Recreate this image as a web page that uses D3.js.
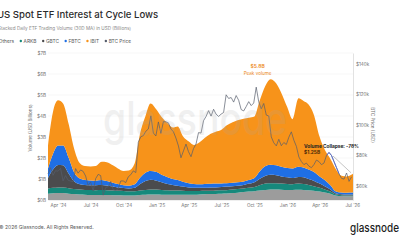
<!DOCTYPE html>
<html>
<head>
<meta charset="utf-8">
<script src="https://d3js.org/d3.v7.min.js"></script>
<style>
  body { margin: 0; background: #fff; }
  text { font-family: Inter, "Liberation Sans", sans-serif; }
</style>
</head>
<body>
<div id="chart"></div>
<script>
// half-monthly points of the 30D MA volume (USD billions)
var volDates = ["2024-03-04","2024-03-18","2024-04-01","2024-04-15","2024-05-01","2024-05-15","2024-06-01","2024-06-15",
  "2024-07-01","2024-07-15","2024-08-01","2024-08-15","2024-09-01","2024-09-15","2024-10-01","2024-10-15",
  "2024-11-01","2024-11-15","2024-12-01","2024-12-15","2025-01-01","2025-01-15","2025-02-01","2025-02-15",
  "2025-03-01","2025-03-15","2025-04-01","2025-04-15","2025-05-01","2025-05-15","2025-06-01","2025-06-15",
  "2025-07-01","2025-07-15","2025-08-01","2025-08-15","2025-09-01","2025-09-15","2025-10-01","2025-10-15",
  "2025-11-01","2025-11-15","2025-12-01","2025-12-15","2026-01-01","2026-01-15","2026-02-01","2026-02-15",
  "2026-03-01","2026-03-15","2026-04-01","2026-04-15","2026-05-01","2026-05-15","2026-06-01","2026-06-15",
  "2026-07-01","2026-07-03"];
var others = [.30,.32,.33,.33,.30,.28,.26,.25,.24,.24,.24,.24,.23,.23,.22,.22,
  .22,.24,.25,.26,.26,.25,.25,.25,.25,.25,.25,.25,.26,.27,.28,.29,
  .30,.31,.33,.35,.38,.40,.42,.45,.48,.50,.50,.49,.48,.48,.49,.48,
  .46,.44,.40,.36,.30,.22,.19,.18,.18,.18];
var arkb = [.25,.26,.27,.27,.26,.24,.24,.23,.24,.23,.24,.23,.22,.21,.21,.20,
  .20,.21,.23,.24,.24,.23,.21,.20,.20,.19,.18,.18,.17,.17,.16,.16,
  .16,.16,.17,.17,.17,.18,.20,.25,.30,.30,.30,.29,.28,.27,.29,.28,
  .26,.22,.18,.14,.10,.05,.04,.04,.04,.04];
var gbtc = [.50,.87,1.07,1.05,.69,.38,.25,.24,.22,.23,.23,.22,.19,.16,.14,.13,
  .16,.30,.42,.46,.42,.37,.30,.27,.23,.20,.17,.15,.15,.14,.15,.15,
  .16,.17,.16,.16,.17,.20,.23,.30,.37,.40,.38,.34,.32,.30,.32,.32,
  .28,.26,.20,.16,.10,.05,.04,.04,.04,.04];
var fbtc = [.45,.75,.93,.95,.75,.45,.27,.23,.23,.22,.24,.21,.18,.16,.13,.13,
  .17,.30,.40,.42,.41,.35,.32,.28,.27,.23,.20,.18,.17,.18,.18,.18,
  .17,.16,.16,.17,.16,.17,.20,.35,.47,.48,.47,.46,.44,.45,.48,.47,
  .45,.43,.34,.29,.20,.10,.09,.09,.10,.10];
var ibit = [1.10,2.00,2.15,2.00,1.60,1.15,.73,.67,.67,.70,.87,.90,.83,.74,.68,.72,
  1.00,2.05,2.70,3.22,2.97,2.75,2.57,2.45,2.55,2.18,1.98,1.86,2.00,2.19,2.38,2.47,
  2.56,2.75,2.88,2.95,2.99,2.97,2.93,3.35,3.83,4.07,3.90,3.52,2.88,2.35,3.27,3.17,
  3.10,2.75,1.88,1.45,1.25,1.08,.79,.77,.87,.89];

// weekly BTC price (USD thousands), Mondays from 2024-03-04
var priceStart = "2024-03-04";
var btcPrice = [68,72,67,70, 69.7,71.6,63.4,66.8,63.8, 63.2,62.9,71.4,68.4, 70.5,69.6,66.5,60.3,
  62.7,56.7,64.8,67.6,66.8, 54,59,59.5,62.9, 57.5,57,58.2,63.3,63.3, 62.2,66,67.4,69.9,
  68.8,88.7,92.3,93, 95.9,97.4,106,94.7,92.8,
  102,94.5,102.2,102.1, 101.4,97.4,95.5,91.4, 86.2,78.5,83,87.5,82.5, 79.2,84.5,87.5,95,
  94.7,102.8,105.6,109.4, 105.8,110.3,107.1,105.6,107.1, 108.2,119.8,117.4,118,
  115,119.3,116.2,110.1, 109.2,112.1,115.3,112.7,114.4, 124.8,115.2,110.6,114.1,
  106.5,105.9,92.2,88.3, 86.3,90.6,86.4,88.5,87.2,
  92,95.5,90,86, 79,76,74,75, 73,72,74,77,76, 74,75,80,82, 80,76,72,68, 65,64.5,68.5,63,66];

var seriesNames = ["Others", "ARKB", "GBTC", "FBTC", "IBIT"];
var seriesColors = ["#9c9c9c", "#16897c", "#4b4b4d", "#1f6fe5", "#f7931a"];
var priceColor = "#565d6b";
var yTicks = [0, 1, 2, 3, 4, 5, 6, 7];
var priceTicks = [60, 80, 100, 120, 140];

var W = 400, H = 240;
var parse = d3.timeParse("%Y-%m-%d");

var rows = volDates.map(function(d, i) {
  return { date: parse(d), Others: others[i], ARKB: arkb[i], GBTC: gbtc[i], FBTC: fbtc[i], IBIT: ibit[i] };
});
var priceDates = d3.timeMonday.range(parse(priceStart), d3.timeDay.offset(parse(priceStart), 7 * btcPrice.length));
var prices = btcPrice.map(function(p, i) { return { date: priceDates[i], p: p }; });

var svg = d3.select("#chart").append("svg")
  .attr("width", W).attr("height", H);

var x = d3.scaleTime().domain([parse("2024-03-04"), parse("2026-07-03")]).range([48, 353]);
var y = d3.scaleLinear().domain([0, 7]).range([200, 53]);
var yR = d3.scaleLinear().domain([50.8, 147.2]).range([200, 53]);

// grid
svg.append("g").selectAll("line").data(yTicks).enter().append("line")
  .attr("x1", 48).attr("x2", 353)
  .attr("y1", function(d) { return y(d); }).attr("y2", function(d) { return y(d); })
  .style("stroke", "#ededed").style("stroke-width", 0.5);

// stacked areas
var stack = d3.stack().keys(seriesNames);
var layers = stack(rows);
var area = d3.area()
  .curve(d3.curveMonotoneX)
  .x(function(d) { return x(d.data.date); })
  .y0(function(d) { return y(d[0]); })
  .y1(function(d) { return y(d[1]); });
svg.append("g").selectAll("path").data(layers).enter().append("path")
  .attr("d", area)
  .style("fill", function(d, i) { return seriesColors[i]; });

// price line
var line = d3.line().x(function(d) { return x(d.date); }).y(function(d) { return yR(d.p); });
svg.append("path").datum(prices).attr("d", line)
  .style("fill", "none").style("stroke", priceColor).style("stroke-width", 0.7);
var hiFrom = parse("2026-04-20"), hiTo = parse("2026-05-25");
svg.append("path").datum(prices.filter(function(d) { return d.date >= hiFrom && d.date <= hiTo; }))
  .attr("d", line)
  .style("fill", "none").style("stroke", "#4d63d6").style("stroke-width", 0.8);

// watermark
svg.append("text").attr("x", 195).attr("y", 135).attr("text-anchor", "middle")
  .attr("textLength", 184).attr("lengthAdjust", "spacingAndGlyphs")
  .style("font-size", "46px").style("font-weight", 500)
  .style("fill", "#a8a8a8").style("opacity", 0.17).text("glassnode");

// axes
var axL = svg.append("g").attr("transform", "translate(48,0)")
  .call(d3.axisLeft(y).tickValues(yTicks).tickSize(0).tickPadding(2).tickFormat(function(d) { return "$" + d + "B"; }));
var axR = svg.append("g").attr("transform", "translate(353,0)")
  .call(d3.axisRight(yR).tickValues(priceTicks).tickSize(0).tickPadding(3).tickFormat(function(d) { return "$" + d + "k"; }));
var axB = svg.append("g").attr("transform", "translate(0,200)")
  .call(d3.axisBottom(x).ticks(d3.timeMonth.every(3)).tickSize(0).tickPadding(4).tickFormat(d3.timeFormat("%b '%y")));
axL.select(".domain").remove();
axB.select(".domain").style("stroke", "#e2e2e2").style("stroke-width", 0.5);
axR.select(".domain").style("stroke", "#cfcfcf").style("stroke-width", 0.6);
svg.selectAll(".tick text").style("font-size", "4.6px").style("fill", "#6f6f6f").style("font-family", "Inter, sans-serif");

svg.append("text").attr("transform", "translate(32,128) rotate(-90)").attr("text-anchor", "middle")
  .style("font-size", "4.6px").style("fill", "#6f6f6f").text("Volume (USD Billions)");
svg.append("text").attr("transform", "translate(371,125) rotate(90)").attr("text-anchor", "middle")
  .style("font-size", "4.6px").style("fill", "#6f6f6f").text("BTC Price (USD)");

// title block
svg.append("text").attr("x", -3).attr("y", 18)
  .style("font-size", "9.6px").style("font-weight", 500).style("fill", "#2b2b2b")
  .text("US Spot ETF Interest at Cycle Lows");
svg.append("text").attr("x", -2).attr("y", 30)
  .style("font-size", "4.6px").style("fill", "#8a8a8a")
  .text("Stacked Daily ETF Trading Volume (30D MA) in USD (Billions)");

// legend
var legendItems = seriesNames.map(function(n, i) { return { name: n, color: seriesColors[i] }; })
  .concat([{ name: "BTC Price", color: priceColor }]);
var lx = -4;
legendItems.forEach(function(it) {
  svg.append("circle").attr("cx", lx).attr("cy", 41).attr("r", 1.2).style("fill", it.color);
  var t = svg.append("text").attr("x", lx + 2.8).attr("y", 42.7)
    .style("font-size", "4.8px").style("fill", "#555").text(it.name);
  lx += t.node().getComputedTextLength() + 9.6;
});

// annotations
var peak = rows[d3.maxIndex(rows, function(r) { return r.Others + r.ARKB + r.GBTC + r.FBTC + r.IBIT; })];
var px = x(peak.date) - 13;
svg.append("text").attr("x", px).attr("y", 67.5).attr("text-anchor", "middle")
  .style("font-size", "5px").style("font-weight", 600).style("fill", "#ec8a1c").text("$5.8B");
svg.append("text").attr("x", px).attr("y", 74.5).attr("text-anchor", "middle")
  .style("font-size", "4.6px").style("fill", "#ec8a1c").text("Peak volume");

var last = rows[rows.length - 1];
var lastTotal = last.Others + last.ARKB + last.GBTC + last.FBTC + last.IBIT;
svg.append("line")
  .attr("x1", 333).attr("y1", 156)
  .attr("x2", x(last.date) - 2).attr("y2", y(lastTotal) - 1)
  .style("stroke", "#8a8a8a").style("stroke-width", 0.5);
svg.append("text").attr("x", 304).attr("y", 147.5)
  .style("font-size", "4.8px").style("font-weight", 700).style("fill", "#222").text("Volume Collapse: -78%");
svg.append("text").attr("x", 304).attr("y", 154)
  .style("font-size", "4.8px").style("font-weight", 700).style("fill", "#4a2a08").text("$1.25B");

// footer
svg.append("text").attr("x", -1).attr("y", 228.5)
  .style("font-size", "5px").style("fill", "#5a5a5a").text("\u00a9 2026 Glassnode. All Rights Reserved.");
svg.append("text").attr("x", 350).attr("y", 232)
  .attr("textLength", 49).attr("lengthAdjust", "spacingAndGlyphs")
  .style("font-size", "12px").style("font-weight", 500).style("fill", "#1c1c1c").text("glassnode");
</script>
</body>
</html>
